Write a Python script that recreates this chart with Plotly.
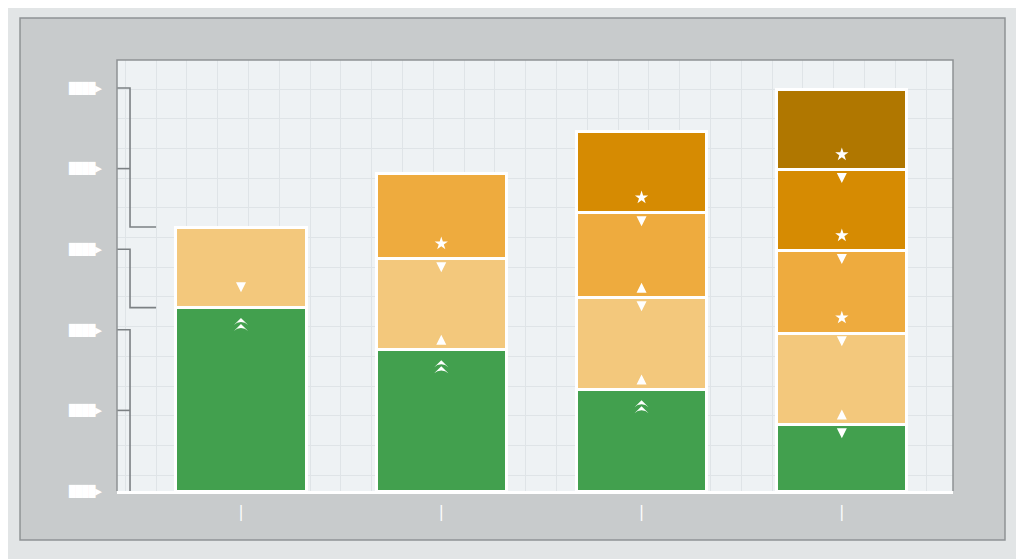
import plotly.graph_objects as go

# ---- data ----
bar_positions = [0, 1, 2, 3]
x_labels = ["|", "|", "|", "|"]
y_tick_values = [0, 20, 40, 60, 80, 100]
y_tick_labels = ["████▶"] * 6

series_names = ["Series A", "Series B", "Series C", "Series D", "Series E"]
green_vals = [45.5, 35.0, 25.1, 16.4]
tan_vals = [20.0, 22.6, 22.8, 22.8]
mid_vals = [None, 21.1, 21.1, 20.4]
dark_vals = [None, None, 20.1, 20.1]
brown_vals = [None, None, None, 20.0]

series_colors = ["#42a04e", "#f3c87c", "#eeab3e", "#d68b02", "#b07700"]

icons_top = [
    ["dchev", "dchev", "dchev", "arrow-bar-down"],
    [None, "arrow-bar-down", "arrow-bar-down", "arrow-bar-down"],
    [None, None, "arrow-bar-down", "arrow-down"],
    [None, None, None, "arrow-down"],
    [None, None, None, None],
]
icons_bottom = [
    [None, None, None, None],
    ["arrow-down", "arrow-bar-up", "arrow-bar-up", "arrow-bar-up"],
    [None, "star", "arrow-bar-up", "star"],
    [None, None, "star", "star"],
    [None, None, None, "star"],
]

# bracket guide values: (top, bottom, extra ticks, closing foot?)
bracket_groups = [
    (100, 65.5, [80], True),
    (60, 45.5, [], True),
    (40, 0, [20], False),
]

all_series = [green_vals, tan_vals, mid_vals, dark_vals, brown_vals]

# ---- layout constants ----
X_RANGE = [-0.619, 3.555]
Y_RANGE = [0, 106.95]
BAR_WIDTH = 0.65
X_LEFT, X_MID, X_RIGHT = -0.619, -0.554, -0.424

fig = go.Figure()

for name, vals, col in zip(series_names, all_series, series_colors):
    fig.add_trace(go.Bar(
        x=bar_positions, y=vals, name=name, width=BAR_WIDTH,
        marker=dict(color=col, line=dict(color="white", width=3)),
        hoverinfo="skip",
    ))

# icons
ix, iy, isym = [], [], []
cum = [0.0] * len(bar_positions)
for s, vals in enumerate(all_series):
    for b, v in enumerate(vals):
        if v is None:
            continue
        lo, hi = cum[b], cum[b] + v
        t = icons_top[s][b]
        if t == "dchev":
            for dy in (0.75, -0.75):
                ix.append(bar_positions[b]); iy.append(hi - 3.3 + dy); isym.append("arrow-wide")
        elif t:
            ix.append(bar_positions[b]); iy.append(hi - 3.3); isym.append(t)
        bt = icons_bottom[s][b]
        if bt:
            ix.append(bar_positions[b]); iy.append(lo + 3.8); isym.append(bt)
        cum[b] = hi

fig.add_trace(go.Scatter(
    x=ix, y=iy, mode="markers", hoverinfo="skip",
    marker=dict(symbol=isym, color="white", size=10, line=dict(width=0)),
))

# bracket guides
bx, by = [], []
for top, bottom, extra, foot in bracket_groups:
    if foot:
        bx += [X_LEFT, X_MID, X_MID, X_RIGHT, None]
        by += [top, top, bottom, bottom, None]
    else:
        bx += [X_LEFT, X_MID, X_MID, None]
        by += [top, top, bottom, None]
    for e in extra:
        bx += [X_LEFT, X_MID, None]
        by += [e, e, None]
fig.add_trace(go.Scatter(
    x=bx, y=by, mode="lines", hoverinfo="skip", cliponaxis=False,
    line=dict(color="#7c8184", width=1.6),
))

fig.update_layout(
    width=1024, height=559, autosize=False,
    margin=dict(l=109, r=79, t=52, b=76, pad=0),
    barmode="stack", bargap=0.35, showlegend=False,
    paper_bgcolor="#e2e5e6", plot_bgcolor="rgba(0,0,0,0)",
    shapes=[
        dict(type="rect", xref="paper", yref="paper", layer="below",
             x0=-0.116, x1=1.0622, y0=-0.1137, y1=1.0974,
             fillcolor="#c8cbcc", line=dict(color="#8f9395", width=1.5)),
        dict(type="rect", xref="paper", yref="paper", layer="below",
             x0=0, x1=1, y0=0, y1=1, fillcolor="#eef2f4", line=dict(width=0)),
        dict(type="path", xref="paper", yref="paper", layer="above",
             path="M 0,0 L 0,1 L 1,1 L 1,0",
             line=dict(color="#8e9294", width=1.5)),
    ],
    xaxis=dict(
        range=X_RANGE, tickmode="array", tickvals=bar_positions, ticktext=x_labels,
        tickfont=dict(family="DejaVu Sans", size=15, color="white"),
        ticks="", ticklabelstandoff=5,
        showgrid=False, zeroline=False,
        showline=True, linecolor="white", linewidth=3,
        minor=dict(dtick=0.1538, tick0=-0.27, showgrid=True,
                   gridcolor="#dfe4e7", gridwidth=1, ticks=""),
    ),
    yaxis=dict(
        range=Y_RANGE, tickmode="array", tickvals=y_tick_values, ticktext=y_tick_labels,
        tickfont=dict(family="DejaVu Sans Mono", size=11, color="white"),
        ticks="", ticklabelstandoff=14,
        showgrid=False, zeroline=False, showline=False,
        minor=dict(dtick=7.37, tick0=99.75, showgrid=True,
                   gridcolor="#dfe4e7", gridwidth=1, ticks=""),
    ),
)

fig.write_html("out.html")
